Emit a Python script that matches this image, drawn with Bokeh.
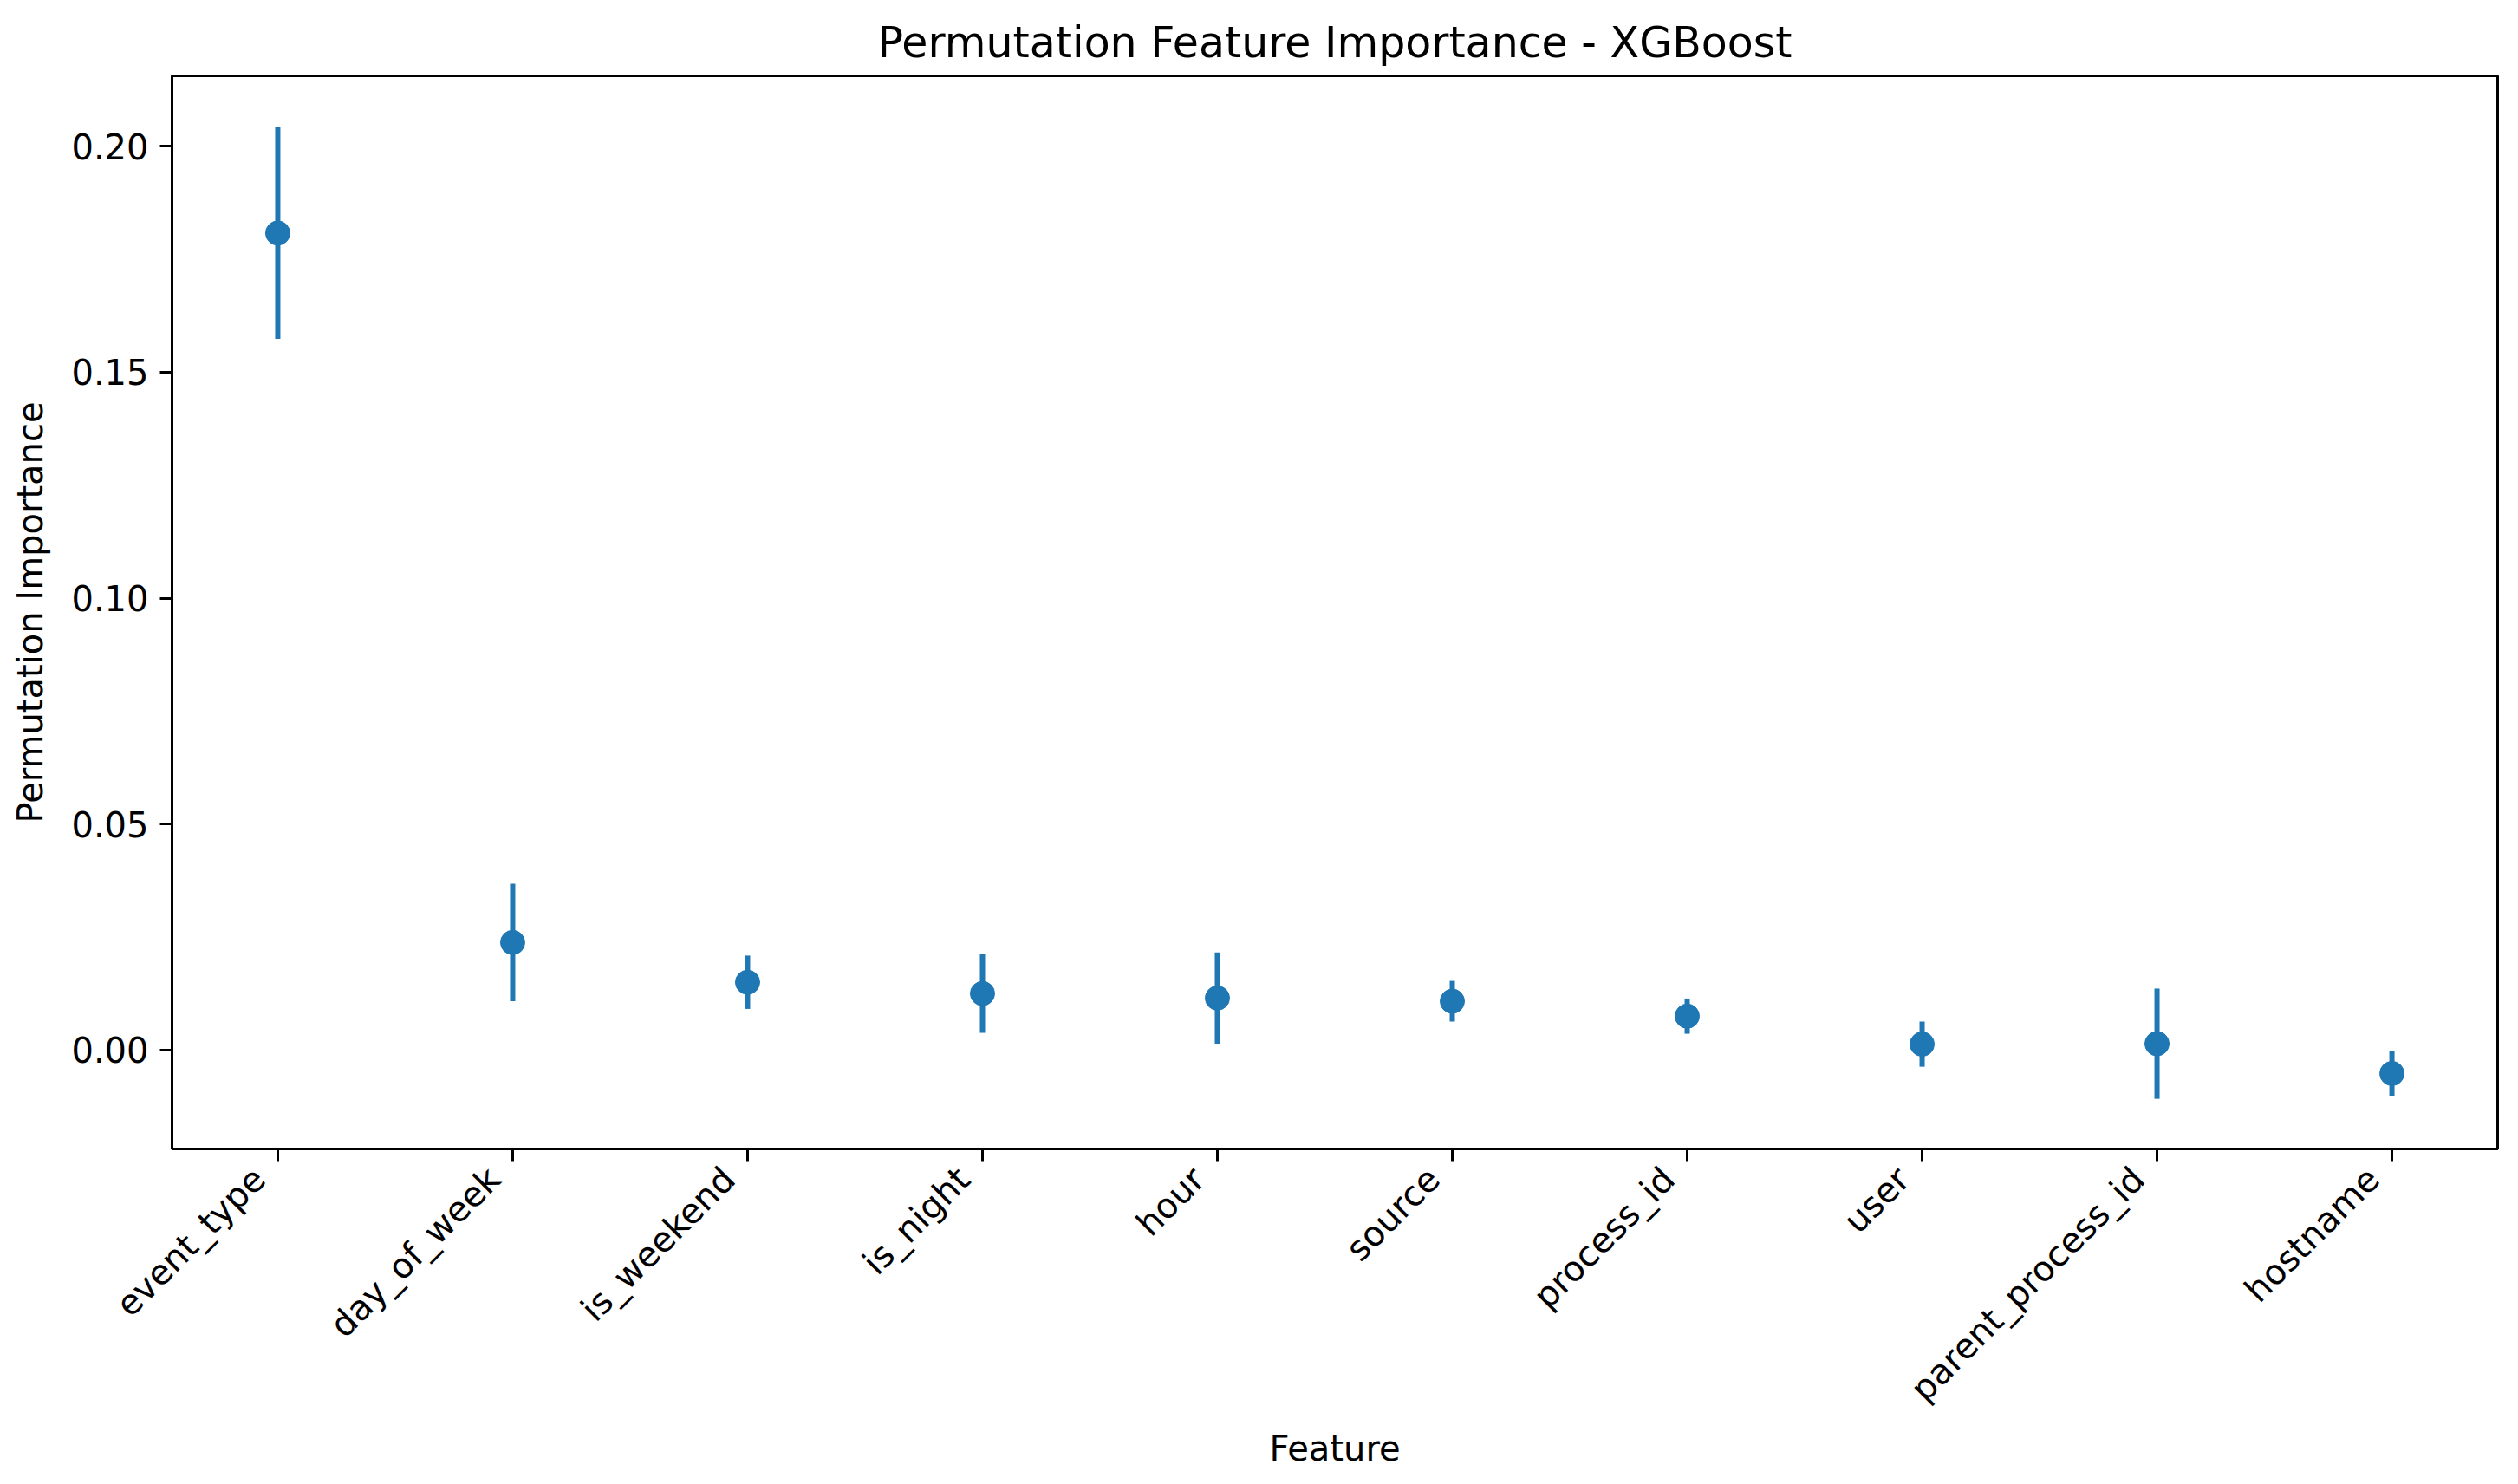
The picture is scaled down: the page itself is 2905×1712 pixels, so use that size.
from math import pi
from bokeh.plotting import figure
from bokeh.models import (Range1d, FixedTicker, NumeralTickFormatter,
                          ColumnDataSource, LinearAxis)
from bokeh.embed import file_html
from bokeh.resources import INLINE

features = ["event_type", "day_of_week", "is_weekend", "is_night", "hour",
            "source", "process_id", "user", "parent_process_id", "hostname"]
importance_mean = [0.1808, 0.0238, 0.0150, 0.0125, 0.0115,
                   0.0108, 0.0075, 0.0013, 0.0014, -0.0052]
importance_std = [0.0234, 0.0130, 0.0059, 0.0087, 0.0101,
                  0.0045, 0.0039, 0.0050, 0.0122, 0.0049]
y_ticks = [0.00, 0.05, 0.10, 0.15, 0.20]

xs = list(range(len(features)))
src = ColumnDataSource(dict(
    x=xs,
    mean=importance_mean,
    lo=[m - s for m, s in zip(importance_mean, importance_std)],
    hi=[m + s for m, s in zip(importance_mean, importance_std)],
))

FONT = "DejaVu Sans"
BLUE = "#1f77b4"
X_START, X_END = -0.45, len(features) - 1 + 0.45
Y_START, Y_END = -0.0219, 0.2156
LABEL_SHIFT = 0.08  # moves rotated labels so their right end sits left of the tick

p = figure(width=2889, height=1696,
           x_range=Range1d(X_START, X_END),
           y_range=Range1d(Y_START, Y_END),
           output_backend="svg", toolbar_location=None,
           min_border_left=198, min_border_right=8,
           min_border_top=87, min_border_bottom=370,
           title="Permutation Feature Importance - XGBoost")
p.extra_x_ranges = {"labels": Range1d(X_START + LABEL_SHIFT, X_END + LABEL_SHIFT)}

p.background_fill_color = "white"
p.border_fill_color = "white"
p.outline_line_color = "black"
p.outline_line_width = 3
p.outline_line_alpha = 1.0

p.title.text_font = FONT
p.title.text_font_size = "49px"
p.title.text_font_style = "normal"
p.title.text_color = "black"
p.title.align = "center"
p.title.standoff = 20

p.xgrid.visible = False
p.ygrid.visible = False


def style_axis(ax):
    ax.major_label_text_font = FONT
    ax.major_label_text_font_size = "40px"
    ax.major_label_text_color = "black"
    ax.axis_label_text_font = FONT
    ax.axis_label_text_font_size = "40px"
    ax.axis_label_text_font_style = "normal"
    ax.axis_label_text_color = "black"
    ax.major_tick_out = 14
    ax.major_tick_in = 0
    ax.major_tick_line_width = 3
    ax.major_tick_line_color = "black"
    ax.minor_tick_line_color = None
    ax.axis_line_color = "black"
    ax.axis_line_width = 3
    ax.major_label_standoff = 13


style_axis(p.xaxis[0])
style_axis(p.yaxis[0])

# tick marks only
p.xaxis[0].ticker = FixedTicker(ticks=xs)
p.xaxis[0].major_label_overrides = {i: "" for i in xs}
p.xaxis[0].major_label_text_font_size = "0px"
p.xaxis[0].major_label_standoff = 0

# rotated category labels + axis title
lab_axis = LinearAxis(x_range_name="labels")
style_axis(lab_axis)
lab_axis.ticker = FixedTicker(ticks=xs)
lab_axis.major_label_overrides = {i: f for i, f in zip(xs, features)}
lab_axis.major_label_orientation = pi / 4
lab_axis.major_tick_out = 0
lab_axis.major_tick_line_color = None
lab_axis.axis_line_color = None
lab_axis.major_label_standoff = 14
lab_axis.axis_label = "Feature"
lab_axis.axis_label_standoff = 3
p.add_layout(lab_axis, "below")

p.yaxis.ticker = FixedTicker(ticks=y_ticks)
p.yaxis.formatter = NumeralTickFormatter(format="0.00")
p.yaxis.axis_label = "Permutation Importance"
p.yaxis.axis_label_standoff = 21

p.segment(x0="x", y0="lo", x1="x", y1="hi", source=src,
          line_width=6, line_color=BLUE)
p.scatter(x="x", y="mean", source=src, size=28,
          fill_color=BLUE, line_color=BLUE)

open("out.html", "w").write(file_html(p, INLINE))
